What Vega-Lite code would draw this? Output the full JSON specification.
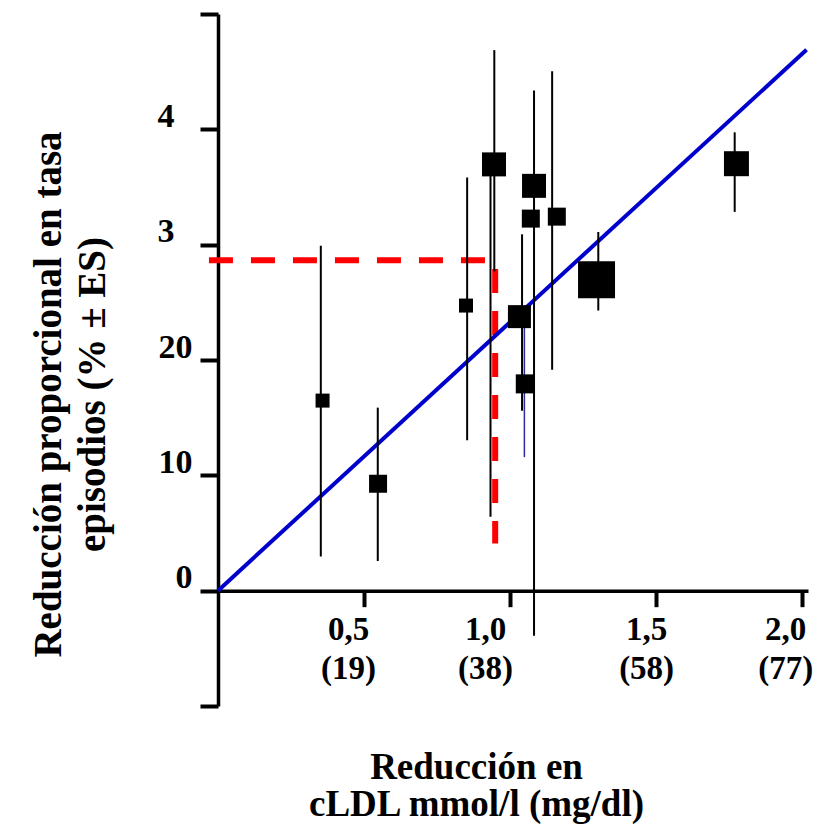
{
  "$schema": "https://vega.github.io/schema/vega-lite/v6.json",
  "width": 590,
  "height": 692,
  "autosize": {"type": "none"},
  "padding": {"left": 218, "top": 14, "right": 7, "bottom": 124},
  "background": "white",
  "config": {"view": {"stroke": null}, "font": "Liberation Serif"},
  "encoding": {
    "x": {
      "field": "x", "type": "quantitative",
      "scale": {"domain": [0, 2.02], "nice": false, "zero": false},
      "axis": {
        "orient": "bottom",
        "offset": -115.33,
        "values": [0.5, 1, 1.5, 2],
        "grid": false,
        "domainColor": "black", "domainWidth": 3.5,
        "tickColor": "black", "tickWidth": 4, "tickSize": 16,
        "labelExpr": "datum.value == 0.5 ? ['0,5','(19)'] : datum.value == 1 ? ['1,0','(38)'] : datum.value == 1.5 ? ['1,5','(58)'] : ['2,0','(77)']",
        "labelFont": "Liberation Serif", "labelFontSize": 33, "labelFontWeight": "bold", "labelColor": "black",
        "labelBaseline": "alphabetic", "labelPadding": 33, "labelLineHeight": 39,
        "labelAlign": "center",
        "labelOffset": {"expr": "datum.value == 0.5 ? -16 : datum.value == 1 ? -25 : datum.value == 1.5 ? -10 : -17"},
        "labelOverlap": false, "labelFlush": false,
        "title": ["Reducción en", "cLDL mmol/l (mg/dl)"],
        "titleFont": "Liberation Serif", "titleFontSize": 37, "titleFontWeight": "bold", "titleColor": "black",
        "titleX": 258, "titleY": 188, "titleBaseline": "alphabetic", "titleAlign": "center", "titleLineHeight": 37
      }
    },
    "y": {
      "field": "y", "type": "quantitative",
      "scale": {"domain": [-10, 50], "nice": false, "zero": false},
      "axis": {
        "orient": "left",
        "values": [-10, 0, 10, 20, 30, 40, 50],
        "grid": false,
        "domainColor": "black", "domainWidth": 3.5,
        "tickColor": "black", "tickWidth": 4, "tickSize": 18,
        "labelExpr": "datum.value == 40 ? '4' : datum.value == 30 ? '3' : (datum.value < 0 || datum.value > 40) ? '' : datum.label",
        "labelFont": "Liberation Serif", "labelFontSize": 34, "labelFontWeight": "bold", "labelColor": "black",
        "labelBaseline": "alphabetic", "labelOffset": -3,
        "labelPadding": {"expr": "datum.value >= 30 ? 26 : 8"},
        "labelOverlap": false, "labelFlush": false,
        "title": ["Reducción proporcional en tasa", "episodios (% ± ES)"],
        "titleFont": "Liberation Serif", "titleFontSize": 39, "titleFontWeight": "bold", "titleColor": "black",
        "titleAngle": -90, "titleX": -170, "titleY": 380, "titleBaseline": "middle", "titleAlign": "center", "titleLineHeight": 44
      }
    }
  },
  "layer": [
    {
      "data": {"values": [{"x": -0.031, "x2": 0.914, "y": 28.65}]},
      "mark": {"type": "rule", "color": "#ff0000", "strokeWidth": 6, "strokeDash": [24, 18]},
      "encoding": {"x2": {"field": "x2"}}
    },
    {
      "data": {"values": [{"x": 0.949, "y": 27.9, "y2": 4.1}]},
      "mark": {"type": "rule", "color": "#ff0000", "strokeWidth": 6, "strokeDash": [24, 18]},
      "encoding": {"y2": {"field": "y2"}}
    },
    {
      "data": {"values": [{"x": 0, "y": 0, "x2": 2.015, "y2": 46.9}]},
      "mark": {"type": "rule", "color": "#0000cc", "strokeWidth": 4},
      "encoding": {"x2": {"field": "x2"}, "y2": {"field": "y2"}}
    },
    {
      "data": {"values": [
        {"x": 0.352, "y": 2.96, "y2": 29.9},
        {"x": 0.547, "y": 2.57, "y2": 15.87},
        {"x": 0.853, "y": 13.04, "y2": 35.83},
        {"x": 0.946, "y": 27.69, "y2": 46.87},
        {"x": 0.933, "y": 6.4, "y2": 36.96},
        {"x": 1.041, "y": 15.6, "y2": 30.9},
        {"x": 1.082, "y": -3.9, "y2": 43.37},
        {"x": 1.144, "y": 19.16, "y2": 45.04},
        {"x": 1.302, "y": 24.29, "y2": 31.1},
        {"x": 1.769, "y": 32.84, "y2": 39.74}
      ]},
      "mark": {"type": "rule", "color": "black", "strokeWidth": 2},
      "encoding": {"y2": {"field": "y2"}}
    },
    {
      "data": {"values": [{"x": 1.049, "y": 11.58, "y2": 23.34}]},
      "mark": {"type": "rule", "color": "#2a2a9a", "strokeWidth": 1.5},
      "encoding": {"y2": {"field": "y2"}}
    },
    {
      "data": {"values": [
        {"x": 0.358, "y": 16.48, "w": 14},
        {"x": 0.548, "y": 9.27, "w": 18},
        {"x": 0.849, "y": 24.72, "w": 14},
        {"x": 0.945, "y": 36.96, "w": 24},
        {"x": 1.032, "y": 23.76, "w": 23},
        {"x": 1.052, "y": 17.93, "w": 19},
        {"x": 1.082, "y": 35.1, "w": 24},
        {"x": 1.071, "y": 32.26, "w": 18},
        {"x": 1.16, "y": 32.43, "w": 18},
        {"x": 1.296, "y": 26.96, "w": 37},
        {"x": 1.775, "y": 37.02, "w": 25}
      ]},
      "mark": {"type": "point", "shape": "square", "filled": true, "color": "black", "opacity": 1, "strokeWidth": 0},
      "encoding": {
        "size": {"field": "w", "type": "quantitative", "scale": {"type": "pow", "exponent": 2, "domain": [0, 40], "range": [0, 1600]}, "legend": null}
      }
    }
  ]
}
